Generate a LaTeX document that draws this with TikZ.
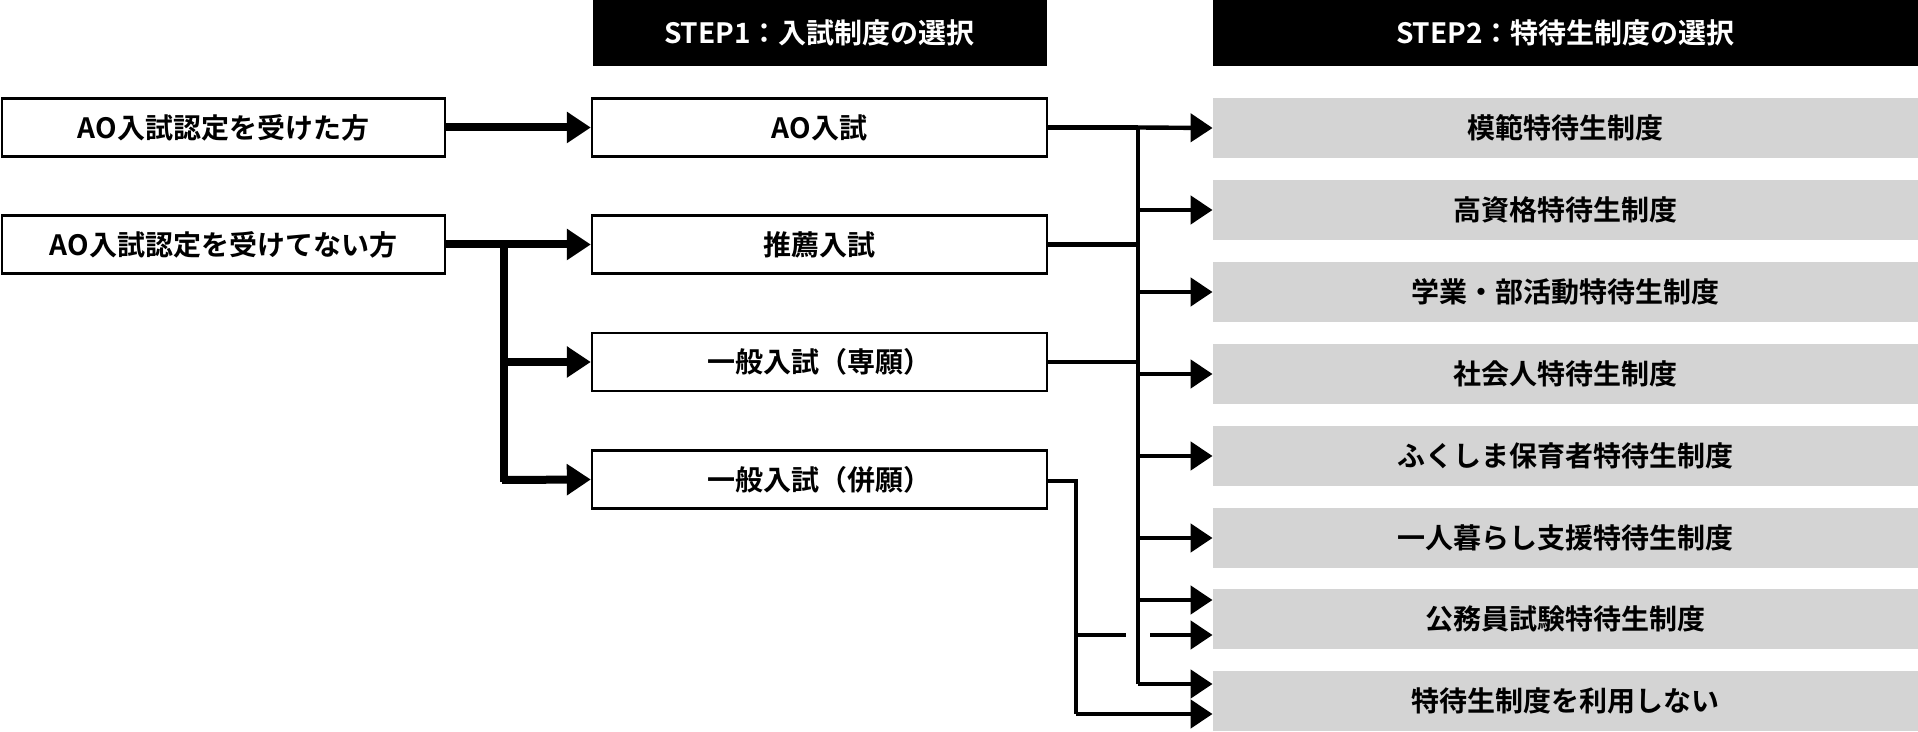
\documentclass[tikz,border=0pt]{standalone}
\usepackage{fontspec}
\setmainfont{Noto Sans CJK JP Bold}
\usetikzlibrary{arrows.meta}
\begin{document}
\begin{tikzpicture}[x=0.5pt,y=-0.5pt,
  hdr/.style={fill=black,text=white,minimum width=227pt,minimum height=33pt,inner sep=0pt,font=\fontsize{14}{16}\selectfont},
  wbox/.style={draw=black,line width=1.2pt,fill=white,minimum height=29pt,inner sep=0pt,font=\fontsize{14}{16}\selectfont},
  gbox/.style={fill=black!17,minimum width=352.5pt,minimum height=30pt,inner sep=0pt,font=\fontsize{14}{16}\selectfont},
  heavy/.style={line width=4pt,-{Triangle[length=12pt,width=15pt]}},
  thin/.style={line width=2.2pt,-{Triangle[length=11pt,width=14pt]}},
  plain/.style={line width=2.2pt}]
\useasboundingbox (0,0) rectangle (1918,732);
\node[hdr] (h1) at (819.5,33) {STEP1：入試制度の選択};
\node[hdr,minimum width=352.5pt] (h2) at (1565.5,33) {STEP2：特待生制度の選択};
\node[wbox,minimum width=221.5pt] (l1) at (223.5,127.5) {AO入試認定を受けた方};
\node[wbox,minimum width=221.5pt] (l2) at (223.5,244.5) {AO入試認定を受けてない方};
\node[wbox,minimum width=227.5pt] (m1) at (819.5,127.5) {AO入試};
\node[wbox,minimum width=227.5pt] (m2) at (819.5,244.5) {推薦入試};
\node[wbox,minimum width=227.5pt] (m3) at (819.5,362) {一般入試（専願）};
\node[wbox,minimum width=227.5pt] (m4) at (819.5,479.5) {一般入試（併願）};
\node[gbox] (g1) at (1565.5,128) {模範特待生制度};
\node[gbox] (g2) at (1565.5,210) {高資格特待生制度};
\node[gbox] (g3) at (1565.5,292) {学業・部活動特待生制度};
\node[gbox] (g4) at (1565.5,374) {社会人特待生制度};
\node[gbox] (g5) at (1565.5,456) {ふくしま保育者特待生制度};
\node[gbox] (g6) at (1565.5,538) {一人暮らし支援特待生制度};
\node[gbox] (g7) at (1565.5,619) {公務員試験特待生制度};
\node[gbox] (g8) at (1565.5,701) {特待生制度を利用しない};
% step 1 arrows
\draw[heavy] (l1) -- (m1);
\draw[heavy] (l2) -- (m2);
\coordinate (b1) at (504,244.5);
\draw[line width=4pt] (504,242.5) -- (504,482);
\draw[heavy] (504,362) -- (m3.west);
\draw[heavy] (502,480) -- (m4.west);
% trunk
\coordinate (tt) at (1138,127.5);
\coordinate (tb) at (1138,684);
\draw[plain] (m1.east) -- (tt);
\draw[plain] (tt) -- (tb);
\draw[plain] (m2.east) -- (1138,244.5);
\draw[plain] (m3.east) -- (1138,362);
\draw[thin] (tt) -- (g1.west);
\foreach \n in {2,...,6} \draw[thin] (1138,0 |- g\n.west) -- (g\n.west);
\draw[thin] (1138,600) -- (g7.west |- 0,600);
\draw[thin] (tb) -- (g8.west |- tb);
% 併願 line
\coordinate (p1) at (1076,481);
\coordinate (p2) at (1076,714);
\draw[plain] (m4.east |- p1) -- (p1) -- (p2);
\draw[thin] (p2) -- (g8.west |- p2);
\draw[plain] (p1 |- 0,635) -- (1126,635);
\draw[thin] (1150,635) -- (g7.west |- 0,635);
\end{tikzpicture}
\end{document}
